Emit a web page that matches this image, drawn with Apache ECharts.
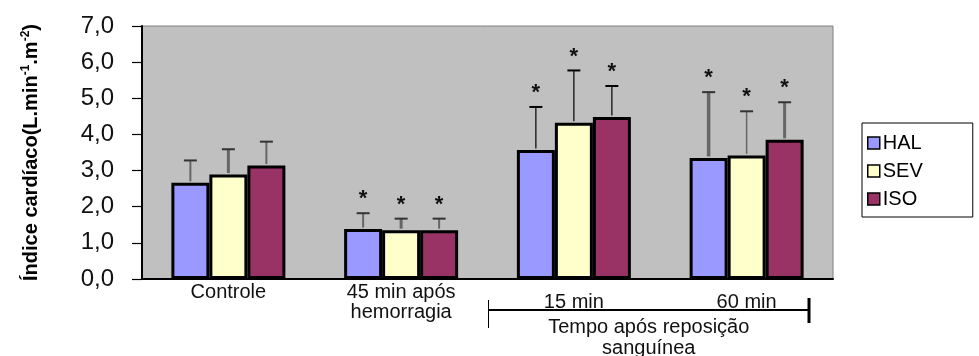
<!DOCTYPE html>
<html>
<head>
<meta charset="utf-8">
<script src="https://cdn.jsdelivr.net/npm/echarts@6/dist/echarts.min.js"></script>
<style>
  html, body { margin: 0; padding: 0; background: #fff; }
  #main { width: 979px; height: 356px; }
</style>
</head>
<body>
<div id="main"></div>
<script>
// Cardiac index per group and time point (mean and SD)
const categories = ['Controle', '45 min após\nhemorragia', '15 min', '60 min'];
const seriesNames = ['HAL', 'SEV', 'ISO'];
const halMean = [2.66, 1.38, 3.57, 3.35];
const halSd   = [0.62, 0.44, 1.19, 1.82];
const sevMean = [2.89, 1.35, 4.32, 3.42];
const sevSd   = [0.70, 0.32, 1.45, 1.22];
const isoMean = [3.14, 1.35, 4.48, 3.85];
const isoSd   = [0.66, 0.32, 0.86, 1.04];
// significance marker (*) per time point
const significant = [false, true, true, true];
const yTicks = [0, 1, 2, 3, 4, 5, 6, 7];

const FONT = '"Liberation Sans", Arial, sans-serif';
const BAR_W = 38;
const colors = ['#9999FF', '#FFFFCC', '#993366'];
const means = [halMean, sevMean, isoMean];
const sds = [halSd, sevSd, isoSd];
// whisker stroke per time point and series
const whiskerColor = [
  ['#666', '#666', '#666'],
  ['#666', '#666', '#666'],
  ['#000', '#000', '#000'],
  ['#666', '#666', '#666']
];
const whiskerWidth = [
  [2, 3, 2],
  [2, 3, 2],
  [1.2, 1.2, 1.2],
  [3.5, 1.5, 3]
];

const chart = echarts.init(document.getElementById('main'));

const barSeries = seriesNames.map((name, si) => ({
  type: 'bar',
  name: name,
  data: means[si],
  barWidth: BAR_W,
  barGap: '0%',
  z: 2,
  itemStyle: { color: colors[si], borderColor: '#000', borderWidth: 3 }
}));

const errSeries = seriesNames.map((name, si) => ({
  type: 'custom',
  name: name + ' DP',
  z: 3,
  silent: true,
  data: categories.map((c, i) => [i, means[si][i], sds[si][i], significant[i] ? 1 : 0]),
  renderItem: function (params, api) {
    const ci = api.value(0);
    const m = api.value(1);
    const s = api.value(2);
    const sig = api.value(3);
    const base = api.coord([ci, m]);
    const top = api.coord([ci, m + s]);
    const x = base[0] + (si - 1) * BAR_W;
    const col = whiskerColor[ci][si];
    const w = whiskerWidth[ci][si];
    const children = [
      { type: 'line', shape: { x1: x, y1: base[1] - 1.5, x2: x, y2: top[1] },
        style: { stroke: col, lineWidth: w } },
      { type: 'line', shape: { x1: x - 6.5, y1: top[1], x2: x + 6.5, y2: top[1] },
        style: { stroke: col === '#000' ? '#000' : '#333', lineWidth: 2 } }
    ];
    if (sig) {
      children.push({
        type: 'text',
        style: {
          text: '*', x: x, y: top[1] - 14,
          textAlign: 'center', textVerticalAlign: 'middle',
          font: 'bold 22px ' + FONT, fill: '#111'
        }
      });
    }
    return { type: 'group', children: children };
  }
}));

chart.setOption({
  animation: false,
  backgroundColor: '#fff',
  grid: {
    left: 142, right: 146, top: 26, bottom: 77,
    show: true, backgroundColor: '#C0C0C0', borderColor: '#808080', borderWidth: 1
  },
  legend: {
    data: seriesNames,
    orient: 'vertical',
    left: 862, top: 123,
    padding: [10, 50, 8, 5],
    itemGap: 8,
    itemWidth: 12, itemHeight: 12,
    icon: 'rect',
    borderColor: '#000', borderWidth: 1,
    itemStyle: { borderWidth: 1.5, borderColor: '#000' },
    textStyle: { fontFamily: FONT, fontSize: 20, color: '#000', padding: [0, 0, 0, -2] }
  },
  xAxis: {
    type: 'category',
    data: categories.map((c, i) => (i >= 2 ? { value: c, textStyle: { padding: [10, 0, 0, 0] } } : c)),
    axisLine: { lineStyle: { color: '#000', width: 2 } },
    axisTick: {
      length: 9, lineStyle: { color: '#000', width: 1.2 },
      interval: function (index) { return index !== 2; }
    },
    axisLabel: { margin: 3, fontFamily: FONT, fontSize: 20, lineHeight: 20, color: '#111' }
  },
  yAxis: {
    type: 'value',
    min: yTicks[0], max: yTicks[yTicks.length - 1], interval: 1,
    name: '{a|Índice cardíaco(L.min}{s|-1}{a|.m}{s|-2}{a|)}',
    nameLocation: 'middle',
    nameRotate: 90,
    nameGap: 100,
    nameTextStyle: {
      rich: {
        a: { fontFamily: FONT, fontSize: 20, fontWeight: 'bold', color: '#000', lineHeight: 22 },
        s: { fontFamily: FONT, fontSize: 12, fontWeight: 'bold', color: '#000', lineHeight: 14, verticalAlign: 'top' }
      }
    },
    axisLine: { show: true, lineStyle: { color: '#000', width: 2 } },
    axisTick: { show: true, length: 10, lineStyle: { color: '#000', width: 1.2 } },
    splitLine: { show: false },
    axisLabel: {
      margin: 28, fontFamily: FONT, fontSize: 24, color: '#111',
      formatter: v => v.toFixed(1).replace('.', ',')
    }
  },
  series: barSeries.concat(errSeries)
});

// bracket grouping the post-transfusion time points
const c2 = chart.convertToPixel({ xAxisIndex: 0 }, '15 min');
const c3 = chart.convertToPixel({ xAxisIndex: 0 }, '60 min');
const y0 = chart.convertToPixel({ yAxisIndex: 0 }, 0);
const band = c3 - c2;
const bl = Math.round(c2 - band / 2) + 0.5;
const br = Math.round(c3 + band * 0.36);
const ly = y0 + 31;
chart.setOption({
  graphic: [
    { type: 'line', shape: { x1: bl, y1: ly, x2: br, y2: ly }, style: { stroke: '#000', lineWidth: 2 } },
    { type: 'line', shape: { x1: bl, y1: y0 + 21, x2: bl, y2: y0 + 49 }, style: { stroke: '#000', lineWidth: 1 } },
    { type: 'line', shape: { x1: br, y1: y0 + 19, x2: br, y2: y0 + 44 }, style: { stroke: '#000', lineWidth: 3 } },
    {
      type: 'text', x: (bl + br) / 2, y: ly + 7,
      style: {
        text: 'Tempo após reposição\nsanguínea',
        font: '20px ' + FONT, lineHeight: 21,
        fill: '#111', textAlign: 'center', textVerticalAlign: 'top'
      }
    }
  ]
});
</script>
</body>
</html>
